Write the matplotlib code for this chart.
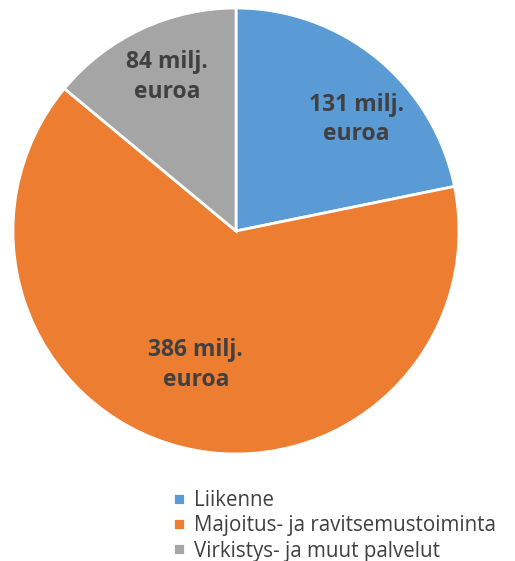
import numpy as np
import matplotlib
matplotlib.use("Agg")
import matplotlib.pyplot as plt

plt.rcParams['font.family'] = ['Open Sans', 'DejaVu Sans']

categories = ['Liikenne', 'Majoitus- ja ravitsemustoiminta', 'Virkistys- ja muut palvelut']
values = [131, 386, 84]
value_labels = ['131 milj.\neuroa', '386 milj.\neuroa', '84 milj.\neuroa']
colors = ['#5B9BD5', '#ED7D31', '#A5A5A5']

fig = plt.figure(figsize=(5.15, 5.61), dpi=100)
ax = fig.add_axes([13 / 515, (561 - 231 - 223) / 561, 446 / 515, 446 / 561])

wedges, _ = ax.pie(values, colors=colors, startangle=90, counterclock=False,
                   radius=1, wedgeprops=dict(edgecolor='white', linewidth=2))
ax.set_xlim(-1, 1)
ax.set_ylim(-1, 1)

# tekstien paikat (säteen suhteen)
label_pos = [(0.54, 0.50), (-0.18, -0.60), (-0.31, 0.69)]
for (x, y), txt in zip(label_pos, value_labels):
    ax.text(x, y, txt, ha='center', va='center',
            fontsize=16.5, fontweight='bold', color='#404040', linespacing=1.32)

leg = fig.legend(wedges, categories, loc='upper left', bbox_to_anchor=(163 / 515, 1 - 480 / 561),
                 frameon=False, fontsize=14.8, handlelength=0.55, handleheight=0.55,
                 handletextpad=0.45, labelspacing=0.2, borderpad=0)
for t in leg.get_texts():
    t.set_color('#404040')

fig.savefig('out.png', dpi=100)
